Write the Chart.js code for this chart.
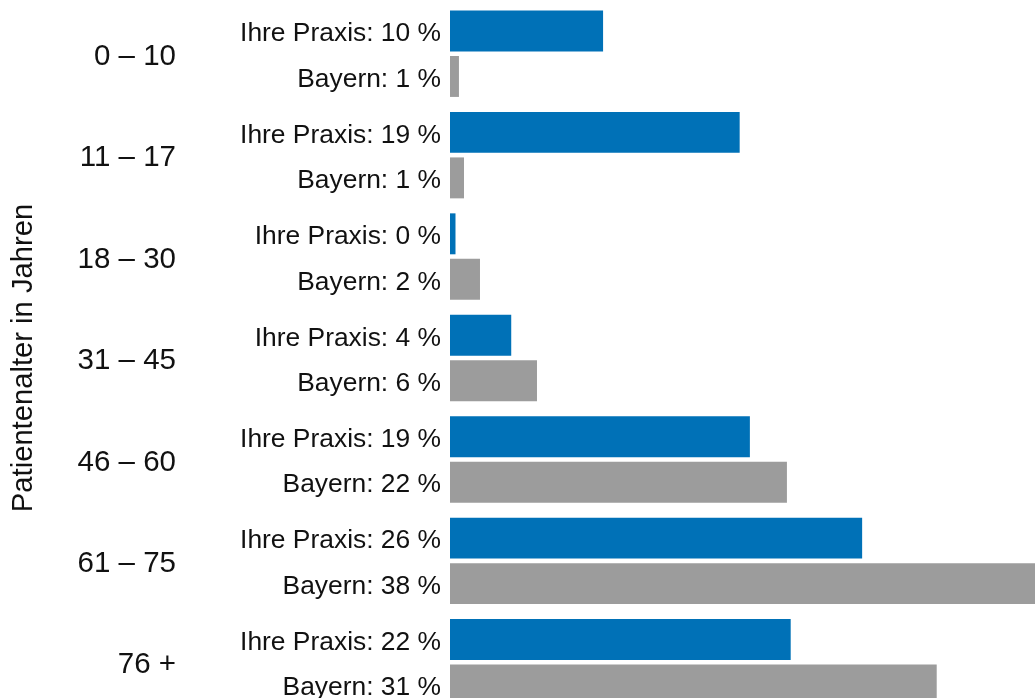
<!DOCTYPE html>
<html>
<head>
<meta charset="utf-8">
<script src="https://cdn.jsdelivr.net/npm/chart.js@4/dist/chart.umd.min.js"></script>
<style>
  html, body { margin: 0; padding: 0; background: #fff; overflow: hidden; }
  #wrap { position: absolute; left: 0; top: 0; width: 1035px; height: 715px; }
</style>
</head>
<body>
<div id="wrap"><canvas id="chart"></canvas></div>
<script>
// data
const ageGroups = ["0 – 10", "11 – 17", "18 – 30", "31 – 45", "46 – 60", "61 – 75", "76 +"];
const praxisValues = [9.75, 18.45, 0.35, 3.9, 19.1, 26.25, 21.7];
const bayernValues = [0.57, 0.89, 1.91, 5.54, 21.46, 37.8, 31.0];
// percentages as printed next to the bars
const praxisShown = [10, 19, 0, 4, 19, 26, 22];
const bayernShown = [1, 1, 2, 6, 22, 38, 31];
const seriesNames = ["Ihre Praxis", "Bayern"];
const axisTitle = "Patientenalter in Jahren";

const FONT = "'Liberation Sans', Arial, Helvetica, sans-serif";
const TEXT = "#111";

// labels left of each bar: "Ihre Praxis: 10 %"
const barLabels = {
  id: "barLabels",
  afterDatasetsDraw(chart) {
    const ctx = chart.ctx;
    const shown = [praxisShown, bayernShown];
    ctx.save();
    ctx.font = `26.4px ${FONT}`;
    ctx.fillStyle = TEXT;
    ctx.textAlign = "right";
    ctx.textBaseline = "middle";
    chart.data.datasets.forEach((ds, d) => {
      chart.getDatasetMeta(d).data.forEach((bar, i) => {
        ctx.fillText(`${ds.label}: ${shown[d][i]} %`, chart.chartArea.left - 9, bar.y + 3);
      });
    });
    ctx.restore();
  }
};

new Chart(document.getElementById("chart"), {
  type: "bar",
  data: {
    labels: ageGroups,
    datasets: [
      { label: seriesNames[0], data: praxisValues, backgroundColor: "#0071b7" },
      { label: seriesNames[1], data: bayernValues, backgroundColor: "#9c9c9c" }
    ]
  },
  options: {
    indexAxis: "y",
    responsive: true,
    maintainAspectRatio: false,
    animation: false,
    layout: { padding: { top: 3, bottom: 2, left: 0, right: 0 } },
    categoryPercentage: 0.897,
    barPercentage: 0.9,
    plugins: { legend: { display: false }, tooltip: { enabled: false } },
    scales: {
      x: { display: false, min: 0, max: 37.26 },
      y: {
        // fixed axis width; the big tick padding must not shrink the plot vertically
        afterFit(scale) {
          scale.width = 450;
          scale.paddingTop = 0;
          scale.paddingBottom = 0;
        },
        grid: { display: false, drawTicks: false },
        border: { display: false },
        ticks: { color: TEXT, padding: 274, labelOffset: 3, font: { family: FONT, size: 29.5 } },
        title: {
          display: true,
          text: axisTitle,
          color: TEXT,
          padding: { top: 6, bottom: 0 },
          font: { family: FONT, size: 29.2 }
        }
      }
    }
  },
  plugins: [barLabels]
});
</script>
</body>
</html>
